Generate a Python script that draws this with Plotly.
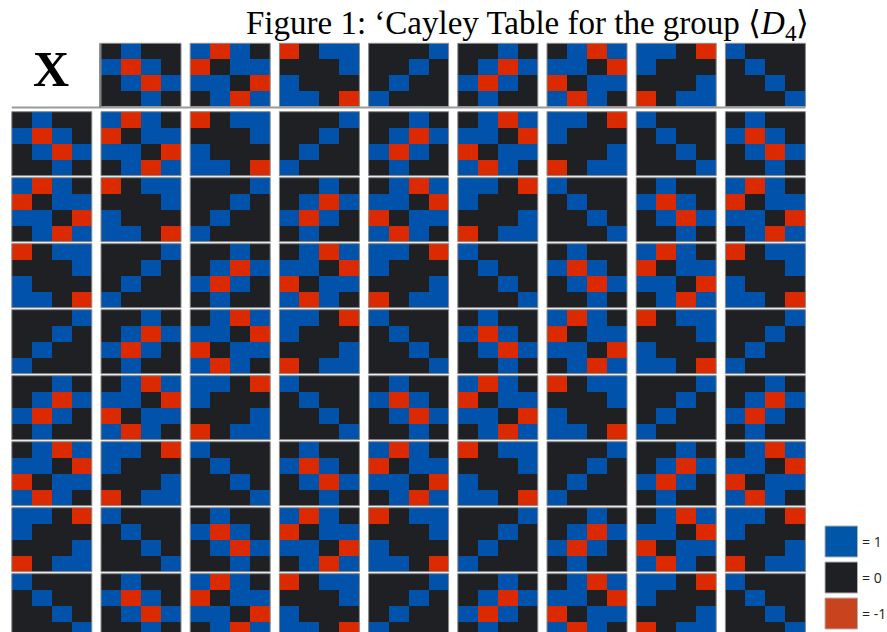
import plotly.graph_objects as go

# ---- data: the eight group elements as 4x4 matrices (1 / 0 / -1) ----
P1 = [[0, 1, 0, 0], [1, -1, 1, 0], [0, 1, -1, 1], [0, 0, 1, 0]]
P2 = [[1, -1, 1, 0], [-1, 0, 1, 1], [1, 1, 0, -1], [0, 1, -1, 1]]
P3 = [[-1, 0, 1, 1], [0, 0, 0, 1], [1, 0, 0, 0], [1, 1, 0, -1]]
P4 = [[0, 0, 0, 1], [0, 0, 1, 0], [0, 1, 0, 0], [1, 0, 0, 0]]
P5 = [[0, 0, 1, 0], [0, 1, -1, 1], [1, -1, 1, 0], [0, 1, 0, 0]]
P6 = [[0, 1, -1, 1], [1, 1, 0, -1], [-1, 0, 1, 1], [1, -1, 1, 0]]
P7 = [[1, 1, 0, -1], [1, 0, 0, 0], [0, 0, 0, 1], [-1, 0, 1, 1]]
P8 = [[1, 0, 0, 0], [0, 1, 0, 0], [0, 0, 1, 0], [0, 0, 0, 1]]
elements = [P1, P2, P3, P4, P5, P6, P7, P8]

# header row / header column (element indices, 1-based)
header_cols = [1, 2, 3, 4, 5, 6, 7, 8]
header_rows = [1, 2, 3, 4, 5, 6, 7, 8]

# Cayley table body (element indices)
cayley = [
    [2, 3, 4, 5, 6, 7, 8, 1],
    [3, 4, 5, 6, 7, 8, 1, 2],
    [4, 5, 6, 7, 8, 1, 2, 3],
    [5, 6, 7, 8, 1, 2, 3, 4],
    [6, 7, 8, 1, 2, 3, 4, 5],
    [7, 8, 1, 2, 3, 4, 5, 6],
    [8, 1, 2, 3, 4, 5, 6, 7],
    [1, 2, 3, 4, 5, 6, 7, 8],
]

legend_values = [1, 0, -1]
legend_labels = ["= 1", "= 0", "= -1"]

# ---- style / layout ----
W, H = 887, 632
BLUE = "#0052AA"
BLACK = "#1F2023"
RED = "#DC2A00"
LEG_COLORS = {1: "#0057A8", 0: "#1F2023", -1: "#C9441E"}
colorscale = [[0, RED], [1 / 3, RED], [1 / 3, BLACK], [2 / 3, BLACK],
              [2 / 3, BLUE], [1, BLUE]]

COL0 = 11.8
COLP = 89.2
MW = 80.0
HEAD_TOP = 43.3
HEAD_H = 63.4
ROW0 = 111.7
ROWP = 66.0
MH = 64.0

fig = go.Figure()
shapes = []


def add_matrix(mat, left, top, h):
    cw = MW / 4
    ch = h / 4
    fig.add_trace(go.Heatmap(
        z=mat, x0=left + cw / 2, dx=cw, y0=top + ch / 2, dy=ch,
        zmin=-1, zmax=1, colorscale=colorscale, showscale=False,
        hoverinfo="skip"))
    shapes.append(dict(type="rect", xref="x", yref="y", x0=left, x1=left + MW,
                       y0=top, y1=top + h,
                       line=dict(color="#8a8a8a", width=1)))


# header row
for c, e in enumerate(header_cols):
    add_matrix(elements[e - 1], COL0 + (c + 1) * COLP, HEAD_TOP, HEAD_H)

# body rows
for r, e in enumerate(header_rows):
    top = ROW0 + r * ROWP
    add_matrix(elements[e - 1], COL0, top, MH)
    for c, v in enumerate(cayley[r]):
        add_matrix(elements[v - 1], COL0 + (c + 1) * COLP, top, MH)

# separator under header
shapes.append(dict(type="line", xref="x", yref="y", x0=COL0, x1=COL0 + 8 * COLP + MW,
                   y0=107.6, y1=107.6, line=dict(color="#9a9a9a", width=2)))
shapes.append(dict(type="line", xref="x", yref="y", x0=COL0 + COLP - 1, x1=COL0 + COLP - 1,
                   y0=HEAD_TOP, y1=107.6, line=dict(color="#6a6a6a", width=1.5)))

# legend
annotations = []
for i, (v, lab) in enumerate(zip(legend_values, legend_labels)):
    top = 526 + i * 36
    shapes.append(dict(type="rect", xref="x", yref="y", x0=825, x1=857.5,
                       y0=top, y1=top + 31, fillcolor=LEG_COLORS[v],
                       line=dict(color="#b0b0b0", width=1)))
    annotations.append(dict(x=860, y=top + 15.5, xref="x", yref="y", text=lab,
                            showarrow=False, xanchor="left", yanchor="middle",
                            font=dict(family="Open Sans", size=14, color="#222")))

annotations.append(dict(x=51, y=69, xref="x", yref="y", text="<b>X</b>",
                        showarrow=False, xanchor="center", yanchor="middle",
                        font=dict(family="Liberation Serif", size=50, color="#000")))
annotations.append(dict(x=527, y=25, xref="x", yref="y",
                        text="Figure 1: \u2018Cayley Table for the group \u27e8<i>D</i><sub>4</sub>\u27e9",
                        showarrow=False, xanchor="center", yanchor="middle",
                        font=dict(family="Liberation Serif", size=33, color="#000")))

fig.update_layout(
    width=W, height=H, margin=dict(l=0, r=0, t=0, b=0),
    paper_bgcolor="white", plot_bgcolor="white",
    xaxis=dict(range=[0, W], visible=False, fixedrange=True),
    yaxis=dict(range=[H, 0], visible=False, fixedrange=True),
    shapes=shapes, annotations=annotations, showlegend=False,
)

fig.write_html("out.html", config={"displayModeBar": False},
               post_script="document.body.style.margin='0';")
